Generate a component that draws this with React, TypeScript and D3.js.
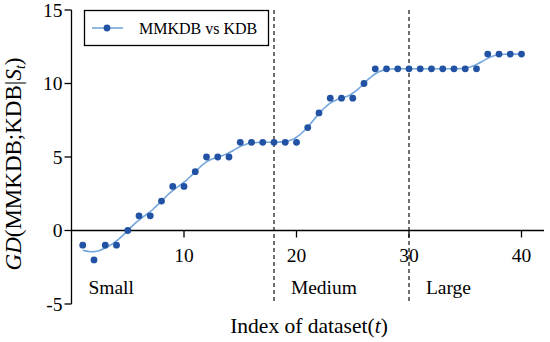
import * as d3 from 'd3'
import React, { useEffect, useRef } from 'react'

const datasetIndex = d3.range(1, 41)
const gdValues = [
    -1, -2, -1, -1, 0, 1, 1, 2, 3, 3,
    4, 5, 5, 5, 6, 6, 6, 6, 6, 6,
    7, 8, 9, 9, 9, 10, 11, 11, 11, 11,
    11, 11, 11, 11, 11, 11, 12, 12, 12, 12,
]
const xTicks = [10, 20, 30, 40]
const yTicks = [-5, 0, 5, 10, 15]
const sizeBounds = [18, 30]
const sizeLabels = [
    { label: 'Small', at: 1.5 },
    { label: 'Medium', at: 19.5 },
    { label: 'Large', at: 31.5 },
]

const W = 550
const H = 342
const FONT = '"Liberation Serif", "Times New Roman", serif'

const App: React.FC = () => {
    const ref = useRef<SVGSVGElement>(null)

    useEffect(() => {
        if (!ref.current) return
        const svg = d3.select(ref.current)
        svg.selectAll('*').remove()

        const x = d3.scaleLinear().domain([0, 42]).range([71.5, 544])
        const y = d3.scaleLinear().domain([-5, 15]).range([304, 10])

        const points = datasetIndex.map((t, i) => ({ t, v: gdValues[i] }))

        // gaussian kernel smoother over the data for the fitted curve
        const sigma = 0.95
        const grid = d3.range(1, 40.01, 0.25)
        const smooth = grid.map(g => {
            let sw = 0, s = 0
            points.forEach(p => {
                const w = Math.exp(-((p.t - g) ** 2) / (2 * sigma * sigma))
                sw += w
                s += w * p.v
            })
            return [g, s / sw] as [number, number]
        })

        const g = svg.append('g').style('font-family', FONT).attr('fill', '#000')

        // dashed size boundaries
        g.selectAll('line.bound')
            .data(sizeBounds)
            .enter()
            .append('line')
            .attr('x1', d => x(d))
            .attr('x2', d => x(d))
            .attr('y1', y(15))
            .attr('y2', y(-5))
            .attr('stroke', '#222')
            .attr('stroke-width', 1.3)
            .attr('stroke-dasharray', '4,3')

        // y axis
        g.append('line')
            .attr('x1', x(0)).attr('x2', x(0))
            .attr('y1', y(15)).attr('y2', y(-5))
            .attr('stroke', '#000').attr('stroke-width', 1.3)
        g.selectAll('line.ytick')
            .data(yTicks)
            .enter()
            .append('line')
            .attr('x1', x(0) - 7).attr('x2', x(0))
            .attr('y1', d => y(d)).attr('y2', d => y(d))
            .attr('stroke', '#000').attr('stroke-width', 1.3)
        g.selectAll('text.ytick')
            .data(yTicks)
            .enter()
            .append('text')
            .attr('x', x(0) - 9)
            .attr('y', d => y(d) + 6.5)
            .attr('text-anchor', 'end')
            .attr('font-size', 19.5)
            .text(d => String(d))

        // x axis at y = 0
        g.append('line')
            .attr('x1', x(0)).attr('x2', x(42))
            .attr('y1', y(0)).attr('y2', y(0))
            .attr('stroke', '#000').attr('stroke-width', 1.3)
        g.selectAll('line.xtick')
            .data(xTicks)
            .enter()
            .append('line')
            .attr('x1', d => x(d)).attr('x2', d => x(d))
            .attr('y1', y(0)).attr('y2', y(0) + 7)
            .attr('stroke', '#000').attr('stroke-width', 1.3)
        g.selectAll('text.xtick')
            .data(xTicks)
            .enter()
            .append('text')
            .attr('x', d => x(d))
            .attr('y', y(0) + 31)
            .attr('text-anchor', 'middle')
            .attr('font-size', 19.5)
            .text(d => d)

        // size labels
        g.selectAll('text.size')
            .data(sizeLabels)
            .enter()
            .append('text')
            .attr('x', d => x(d.at))
            .attr('y', 294)
            .attr('font-size', 19.5)
            .text(d => d.label)

        // axis titles
        g.append('text')
            .attr('x', 309)
            .attr('y', 333)
            .attr('text-anchor', 'middle')
            .attr('font-size', 21.5)
            .call(t => {
                t.append('tspan').text('Index of dataset(')
                t.append('tspan').attr('font-style', 'italic').text('t')
                t.append('tspan').text(')')
            })

        g.append('text')
            .attr('transform', `translate(20.5, 164) rotate(-90)`)
            .attr('text-anchor', 'middle')
            .attr('font-size', 23)
            .call(t => {
                t.append('tspan').attr('font-style', 'italic').text('GD')
                t.append('tspan').text('(MMKDB;KDB|')
                t.append('tspan').attr('font-style', 'italic').text('S')
                t.append('tspan').attr('font-style', 'italic').attr('font-size', 14).attr('dy', 4).text('t')
                t.append('tspan').attr('dy', -4).text(')')
            })

        // fitted curve
        g.append('path')
            .datum(smooth)
            .attr('fill', 'none')
            .attr('stroke', '#74a6dc')
            .attr('stroke-width', 1.6)
            .attr('d', d3.line<[number, number]>()
                .x(d => x(d[0]))
                .y(d => y(d[1]))
                .curve(d3.curveMonotoneX))

        // points
        g.selectAll('circle.pt')
            .data(points)
            .enter()
            .append('circle')
            .attr('cx', d => x(d.t))
            .attr('cy', d => y(d.v))
            .attr('r', 3.4)
            .attr('fill', '#2152a3')

        // legend
        const lg = g.append('g')
        lg.append('rect')
            .attr('x', 84.5).attr('y', 10.5)
            .attr('width', 184).attr('height', 35)
            .attr('fill', '#fff')
            .attr('stroke', '#000').attr('stroke-width', 1.3)
        lg.append('line')
            .attr('x1', 92).attr('x2', 123)
            .attr('y1', 28).attr('y2', 28)
            .attr('stroke', '#74a6dc').attr('stroke-width', 1.6)
        lg.append('circle')
            .attr('cx', 107).attr('cy', 28).attr('r', 3.4)
            .attr('fill', '#2152a3')
        lg.append('text')
            .attr('x', 139).attr('y', 34)
            .attr('font-size', 16)
            .text('MMKDB vs KDB')
    }, [])

    return (
        <svg
            ref={ref}
            width={W}
            height={H}
            style={{ position: 'absolute', left: 0, top: 0, background: '#fff' }}
        />
    )
}

export default App
